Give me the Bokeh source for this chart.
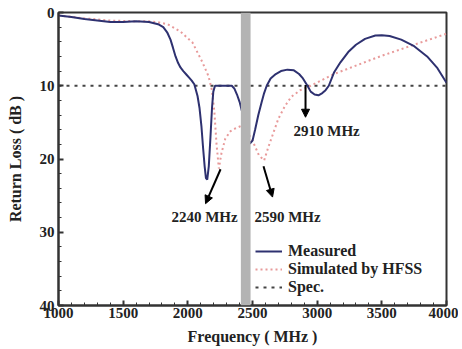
from bokeh.plotting import figure
from bokeh.models import Range1d, BoxAnnotation, Arrow, NormalHead, Label, Legend, LegendItem, FixedTicker
from bokeh.embed import file_html
from bokeh.resources import INLINE

# ---- data ----
meas_freq = [1000, 1100, 1200, 1300, 1400, 1500, 1600, 1700, 1770, 1810, 1840, 1866, 1885, 1905,
             1925, 1943, 1965, 1990, 2010, 2030, 2050, 2075, 2090, 2105, 2118, 2130, 2140, 2150,
             2162, 2175, 2187, 2197, 2210, 2250, 2300, 2340, 2360, 2380, 2400, 2420, 2440, 2460,
             2480, 2500, 2520, 2545, 2570, 2590, 2610, 2640, 2680, 2720, 2770, 2820, 2860, 2890,
             2925, 2950, 2980, 3010, 3040, 3065, 3090, 3130, 3180, 3240, 3300, 3370, 3450, 3500,
             3560, 3650, 3750, 3850, 3930, 4000]
meas_db = [0.4, 0.6, 0.9, 1.1, 1.3, 1.3, 1.2, 1.3, 1.6, 2.0, 2.7, 3.7, 4.8, 6.0,
           6.9, 7.5, 8.0, 8.5, 8.9, 9.3, 9.8, 11.4, 13.0, 15.5, 18.5, 21.0, 22.6, 22.8,
           21.0, 17.0, 13.0, 10.8, 10.0, 10.0, 10.0, 10.0, 10.4, 11.2, 12.2, 13.6, 15.2, 16.8,
           17.9, 17.5, 16.0, 14.0, 12.3, 11.0, 10.0, 9.0, 8.4, 8.0, 7.8, 7.9, 8.4, 9.0,
           10.0, 10.8, 11.2, 11.3, 11.0, 10.6, 10.0, 8.2, 6.8, 5.4, 4.4, 3.6, 3.15, 3.1,
           3.2, 3.7, 4.6, 6.0, 7.6, 9.6]

sim_freq = [1000, 1200, 1400, 1600, 1700, 1760, 1843, 1943, 2036, 2113, 2160, 2185, 2205, 2222,
            2240, 2260, 2290, 2330, 2370, 2410, 2450, 2500, 2550, 2590, 2620, 2660, 2700, 2750,
            2800, 2870, 2950, 3130, 3500, 4000]
sim_db = [0.4, 0.8, 1.1, 1.2, 1.2, 1.3, 1.6, 2.6, 4.1, 6.8, 8.7, 10.5, 13.5, 18.0,
          21.3, 19.2, 17.2, 16.2, 15.8, 15.5, 16.0, 17.5, 19.5, 20.2, 18.5, 16.5, 14.5, 12.8,
          11.5, 10.6, 10.0, 8.4, 5.9, 2.9]

spec_freq = [1000, 4000]
spec_db = [10, 10]

band_freq = [2410, 2485]

x_ticks = [1000, 1500, 2000, 2500, 3000, 3500, 4000]
y_ticks = [0, 10, 20, 30, 40]

ann_text = ["2240 MHz", "2590 MHz", "2910 MHz"]
ann_from_f = [2253, 2585, 2910]
ann_from_db = [21.4, 21.0, 9.9]
ann_to_f = [2137, 2655, 2910]
ann_to_db = [26.1, 25.2, 14.3]
ann_lab_f = [2129, 2771, 3073]
ann_lab_db = [27.9, 27.9, 16.2]

SERIF = "Liberation Serif"

p = figure(width=458, height=347, output_backend="svg", toolbar_location=None,
           x_range=Range1d(1000, 4000), y_range=Range1d(40, 0),
           min_border_left=58, min_border_right=12, min_border_top=12, min_border_bottom=40)
p.background_fill_color = "white"
p.border_fill_color = "white"
p.outline_line_color = "#333333"
p.outline_line_width = 2
p.grid.visible = False

p.xaxis.axis_label = "Frequency ( MHz )"
p.yaxis.axis_label = "Return Loss ( dB )"
for ax in (p.xaxis, p.yaxis):
    ax.axis_label_text_font = SERIF
    ax.axis_label_text_font_style = "bold"
    ax.axis_label_text_font_size = "16px"
    ax.axis_label_text_color = "#222222"
    ax.major_label_text_font = SERIF
    ax.major_label_text_font_style = "bold"
    ax.major_label_text_font_size = "15px"
    ax.major_label_text_color = "#222222"
    ax.axis_line_color = "#333333"
    ax.axis_line_width = 2
    ax.major_tick_in = 5
    ax.major_tick_out = 0
    ax.minor_tick_in = 3
    ax.minor_tick_out = 0
    ax.major_tick_line_color = "#333333"
    ax.minor_tick_line_color = "#333333"
    ax.major_tick_line_width = 2
p.xaxis.axis_label_standoff = 7
p.yaxis.axis_label_standoff = 13
p.xaxis.major_label_standoff = 2
p.yaxis.major_label_standoff = 4

p.xaxis.ticker = FixedTicker(ticks=x_ticks, minor_ticks=list(range(1000, 4001, 100)))
p.yaxis.ticker = FixedTicker(ticks=y_ticks, minor_ticks=list(range(0, 41, 2)))

r_spec = p.line(spec_freq, spec_db, line_color="#444444", line_width=2, line_dash="3 5")
r_sim = p.line(sim_freq, sim_db, line_color="#e89a9a", line_width=2, line_dash="2 3")
r_meas = p.line(meas_freq, meas_db, line_color="#2e3170", line_width=2)

band = BoxAnnotation(left=band_freq[0], right=band_freq[1], fill_color="#b3b3b3",
                     fill_alpha=1.0, line_color=None)
p.add_layout(band)

for i in range(len(ann_text)):
    p.add_layout(Arrow(end=NormalHead(size=8, fill_color="black", line_color="black"),
                       x_start=ann_from_f[i], y_start=ann_from_db[i],
                       x_end=ann_to_f[i], y_end=ann_to_db[i],
                       line_color="black", line_width=2))
    p.add_layout(Label(x=ann_lab_f[i], y=ann_lab_db[i], text=ann_text[i],
                       text_font=SERIF, text_font_style="bold", text_font_size="15px",
                       text_color="#222222", text_align="center", text_baseline="middle"))

legend = Legend(items=[LegendItem(label="Measured", renderers=[r_meas]),
                       LegendItem(label="Simulated by HFSS", renderers=[r_sim]),
                       LegendItem(label="Spec.", renderers=[r_spec])],
                location=(197, 9), padding=0, margin=0, spacing=0,
                label_height=14, glyph_height=14, glyph_width=27, label_standoff=6,
                label_text_font=SERIF, label_text_font_style="bold",
                label_text_font_size="16px", label_text_color="#222222",
                border_line_color=None, background_fill_alpha=0)
p.add_layout(legend)

open("out.html", "w").write(file_html(p, INLINE))
